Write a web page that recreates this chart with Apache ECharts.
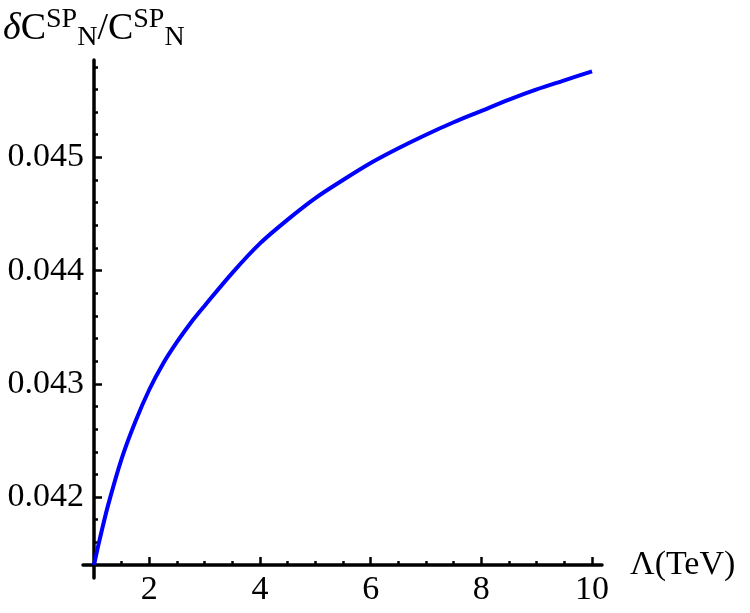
<!DOCTYPE html>
<html>
<head>
<meta charset="utf-8">
<script src="https://cdn.jsdelivr.net/npm/echarts@6/dist/echarts.min.js"></script>
<style>
  html, body { margin: 0; padding: 0; background: #fff; }
  #main { width: 750px; height: 613px; }
</style>
</head>
<body>
<div id="main"></div>
<script>
// Lambda (TeV) and the ratio
var lambdaTeV = [1, 1.1, 1.25, 1.5, 1.75, 2, 2.25, 2.5, 2.75, 3, 3.5, 4, 4.5, 5, 5.5, 6, 6.5, 7, 7.5, 8, 8.5, 9, 9.5, 10];
var ratio = [0.0414, 0.04162, 0.04192, 0.04234, 0.04267, 0.04295, 0.04318, 0.04337, 0.04354, 0.04369, 0.04398,
             0.04424, 0.04445, 0.04464, 0.04480, 0.04495, 0.04508, 0.04520, 0.04531, 0.04541, 0.04551, 0.04560,
             0.04568, 0.04576];

// ticks
var xMajor = [2, 4, 6, 8, 10];
var xMinor = [1.5, 2.5, 3, 3.5, 4.5, 5, 5.5, 6.5, 7, 7.5, 8.5, 9, 9.5];
var yMajor = [0.042, 0.043, 0.044, 0.045];
var yMinor = [0.0416, 0.0418, 0.0422, 0.0424, 0.0426, 0.0428, 0.0432, 0.0434, 0.0436, 0.0438,
              0.0442, 0.0444, 0.0446, 0.0448, 0.0452, 0.0454, 0.0456, 0.0458];

var serif = 'Liberation Serif';
var myChart = echarts.init(document.getElementById('main'));

var xMin = 1, xMax = 10.18, yMin = 0.0414, yMax = 0.04586;

var pts = lambdaTeV.map(function (x, i) { return [x, ratio[i]]; });

var option = {
    animation: false,
    backgroundColor: '#fff',
    title: {
        left: -2,
        top: 1,
        text: '{d|δ}{c|C}{sup|SP}{sub|N}{c|/C}{sup|SP}{sub|N}',
        textStyle: {
            fontFamily: serif,
            fontWeight: 'normal',
            color: '#000',
            rich: {
                d: { fontFamily: serif, fontSize: 38, fontStyle: 'italic', fontWeight: 'normal', color: '#000', lineHeight: 46 },
                c: { fontFamily: serif, fontSize: 38, fontWeight: 'normal', color: '#000', lineHeight: 46 },
                sup: { fontFamily: serif, fontSize: 28, fontWeight: 'normal', color: '#000', verticalAlign: 'top', lineHeight: 30 },
                sub: { fontFamily: serif, fontSize: 28, fontWeight: 'normal', color: '#000', verticalAlign: 'bottom', lineHeight: 28 }
            }
        }
    },
    grid: [
        { left: 94, right: 148, top: 60, bottom: 48 },
        // only for the axis lines, which overhang the origin a bit
        { left: 83, right: 148, top: 60, bottom: 35 }
    ],
    xAxis: [
        {
            gridIndex: 0, type: 'value', min: xMin, max: xMax, position: 'bottom',
            axisLine: { show: false },
            splitLine: { show: false },
            axisTick: { show: true, inside: true, length: 8, customValues: xMajor,
                        lineStyle: { color: '#000', width: 2.5 } },
            axisLabel: { customValues: xMajor, margin: 8, fontFamily: serif, fontSize: 34, color: '#000' },
            name: 'Λ(TeV)',
            nameLocation: 'end',
            nameGap: 28,
            nameTextStyle: { fontFamily: serif, fontSize: 34, color: '#000', verticalAlign: 'middle', padding: [14, 0, 0, 0] }
        },
        {
            gridIndex: 0, type: 'value', min: xMin, max: xMax, position: 'bottom',
            axisLine: { show: false },
            splitLine: { show: false },
            axisTick: { show: true, inside: true, length: 4, customValues: xMinor,
                        lineStyle: { color: '#000', width: 2.5 } },
            axisLabel: { show: false }
        },
        {
            gridIndex: 1, type: 'value', min: 0, max: 1, offset: -13, position: 'bottom',
            axisLine: { show: true, lineStyle: { color: '#000', width: 3.5 } },
            axisTick: { show: false }, axisLabel: { show: false }, splitLine: { show: false }
        }
    ],
    yAxis: [
        {
            gridIndex: 0, type: 'value', min: yMin, max: yMax, position: 'left',
            axisLine: { show: false },
            splitLine: { show: false },
            axisTick: { show: true, inside: true, length: 8, customValues: yMajor,
                        lineStyle: { color: '#000', width: 2.5 } },
            axisLabel: { customValues: yMajor, margin: 10, fontFamily: serif, fontSize: 34, color: '#000',
                         formatter: function (v) { return v.toFixed(3); } }
        },
        {
            gridIndex: 0, type: 'value', min: yMin, max: yMax, position: 'left',
            axisLine: { show: false },
            splitLine: { show: false },
            axisTick: { show: true, inside: true, length: 4, customValues: yMinor,
                        lineStyle: { color: '#000', width: 2.5 } },
            axisLabel: { show: false }
        },
        {
            gridIndex: 1, type: 'value', min: 0, max: 1, offset: -11, position: 'left',
            axisLine: { show: true, lineStyle: { color: '#000', width: 3.5 } },
            axisTick: { show: false }, axisLabel: { show: false }, splitLine: { show: false }
        }
    ],
    series: [
        {
            type: 'line',
            xAxisIndex: 0,
            yAxisIndex: 0,
            data: pts,
            smooth: 0.3,
            showSymbol: false,
            clip: false,
            lineStyle: { color: '#0000ff', width: 4 },
            z: 1
        }
    ]
};

myChart.setOption(option);
</script>
</body>
</html>
